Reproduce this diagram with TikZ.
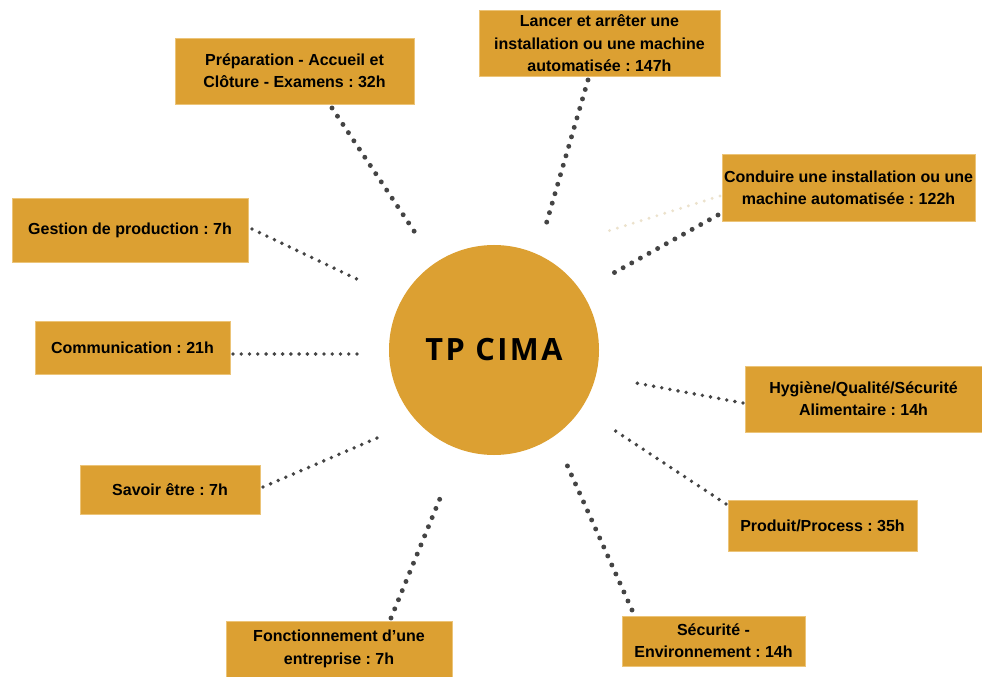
\documentclass[tikz,border=0pt]{standalone}
\usepackage{fontspec}
\setmainfont{Liberation Sans}
\newfontfamily\titlefont[LetterSpace=8]{Open Sans}
\frenchspacing
\definecolor{gold}{RGB}{220,160,50}
\definecolor{goldedge}{RGB}{236,196,120}
\definecolor{dotgray}{RGB}{68,68,68}
\definecolor{faint}{RGB}{236,226,204}
\tikzset{
  topic/.style={draw=goldedge, line width=0.6pt, fill=gold, align=center, inner sep=0pt,
    font=\fontsize{12}{16.8}\selectfont\bfseries\frenchspacing, text=black},
  thickdots/.style={draw=dotgray, line width=3.7pt, line cap=round, dash pattern=on 0pt off 7.4pt},
  thindots/.style={draw=dotgray, line width=2.9pt, line cap=round, dash pattern=on 0pt off 6.2pt},
  faintdots/.style={draw=faint, line width=2.4pt, line cap=round, dash pattern=on 0pt off 6.2pt},
}
\begin{document}
\begin{tikzpicture}[x=0.75pt,y=-0.75pt]
\useasboundingbox (0,0) rectangle (982,677);
\fill[white] (0,0) rectangle (982,677);

% centre
\node[circle, fill=gold, minimum size=157.5pt, inner sep=0pt,
  font=\titlefont\fontsize{23}{23}\selectfont\bfseries] (c) at (494,350) {TP CIMA};

% boxes
\node[topic, minimum width=179.25pt, minimum height=49.5pt] (prep) at (294.5,71)
  {Préparation - Accueil et\\Clôture - Examens : 32h};
\node[topic, minimum width=180.75pt, minimum height=49.5pt] (lancer) at (599.5,43.5)
  {Lancer et arrêter une\\installation ou une machine\\automatisée : 147h};
\node[topic, minimum width=189.75pt, minimum height=50.25pt] (cond) at (848.5,187.5)
  {Conduire une installation ou une\\machine automatisée : 122h};
\node[topic, minimum width=177pt, minimum height=48pt] (gest) at (130,230)
  {Gestion de production : 7h};
\node[topic, minimum width=146.25pt, minimum height=39.75pt] (comm) at (132.5,347.5)
  {Communication : 21h};
\node[topic, minimum width=177.75pt, minimum height=49.5pt] (hyg) at (863.5,399)
  {Hygiène/Qualité/Sécurité\\Alimentaire : 14h};
\node[topic, minimum width=135pt, minimum height=36.75pt] (sav) at (170,489.5)
  {Savoir être : 7h};
\node[topic, minimum width=141.75pt, minimum height=38.25pt] (prod) at (822.5,525.5)
  {Produit/Process : 35h};
\node[topic, minimum width=169.5pt, minimum height=42pt] (fonc) at (339,649)
  {Fonctionnement d’une\\entreprise : 7h};
\node[topic, minimum width=137.25pt, minimum height=37.5pt] (secu) at (713.5,641)
  {Sécurité -\\Environnement : 14h};

% connector end points
\coordinate (prepA) at (332,108);  \coordinate (prepB) at (416,234);
\coordinate (lanA) at (588,80);    \coordinate (lanB) at (545,228);
\coordinate (condA) at (718,215);  \coordinate (condB) at (610,275);
\coordinate (fA) at (720,196);     \coordinate (fB) at (605,232);
\coordinate (gestA) at (252,229);  \coordinate (gestB) at (363,282);
\coordinate (commA) at (233,354);  \coordinate (commB) at (362,354);
\coordinate (hygA) at (743,403);   \coordinate (hygB) at (636,383);
\coordinate (savA) at (263,487);   \coordinate (savB) at (384,435);
\coordinate (prodA) at (726,504);  \coordinate (prodB) at (611,428);
\coordinate (secuA) at (632,610);  \coordinate (secuB) at (567,465);
\coordinate (foncA) at (391,618);  \coordinate (foncB) at (441,496);

\draw[faintdots] (fA) -- (fB);
\draw[thickdots] (prepA) -- (prepB);
\draw[thickdots] (lanA) -- (lanB);
\draw[thickdots] (condA) -- (condB);
\draw[thindots] (gestA) -- (gestB);
\draw[thindots] (commA) -- (commB);
\draw[thindots] (hygA) -- (hygB);
\draw[thindots] (savA) -- (savB);
\draw[thindots] (prodA) -- (prodB);
\draw[thickdots] (secuA) -- (secuB);
\draw[thickdots] (foncA) -- (foncB);
\end{tikzpicture}
\end{document}
